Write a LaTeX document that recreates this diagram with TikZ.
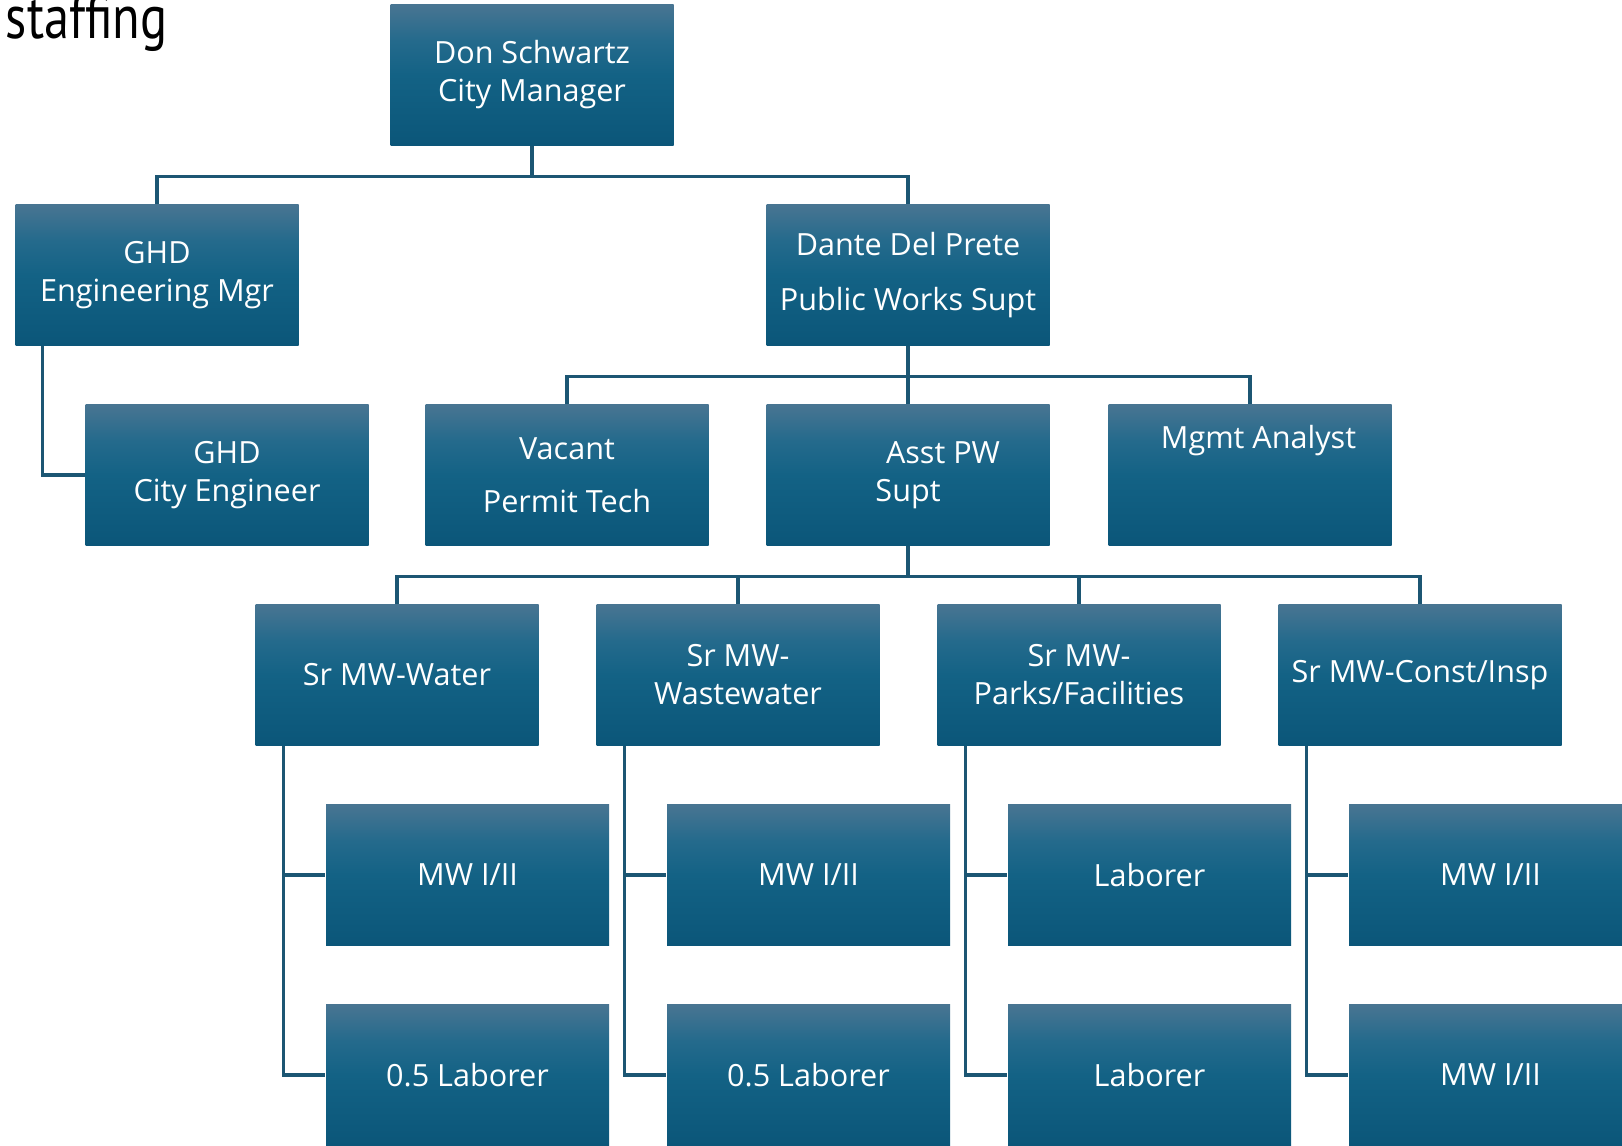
\documentclass[tikz,border=0pt]{standalone}
\usepackage{fontspec}
\setmainfont{Open Sans}
\newfontfamily\titlefont[FakeStretch=0.82]{PT Sans}
\definecolor{boxtop}{RGB}{72,117,146}
\definecolor{boxmidtop}{RGB}{36,106,140}
\definecolor{boxmid}{RGB}{19,98,133}
\definecolor{boxbot}{RGB}{11,86,121}
\definecolor{linecol}{RGB}{28,86,115}
\pgfdeclareverticalshading{orgshade}{100bp}{color(0bp)=(boxbot); color(25bp)=(boxbot); color(50bp)=(boxmid); color(62bp)=(boxmidtop); color(75bp)=(boxtop); color(100bp)=(boxtop)}
\tikzset{
    orgbox/.style={shade, shading=orgshade, minimum width=2.83cm, minimum height=1.41cm,
        inner sep=0pt, text=white, align=center, font=\fontsize{8.7}{10.8}\selectfont},
    orgline/.style={draw=linecol, line width=0.9pt}
}

\begin{document}
\begin{tikzpicture}
            \useasboundingbox (0,0) rectangle (16.22,-11.45);
            \clip (0,0) rectangle (16.22,-11.45);
            % title, cut by the page edge
            \node[anchor=base east, inner sep=0pt, font=\titlefont\fontsize{17.5}{20}\selectfont] (title) at (1.68,-0.38) {staffing};
            % top levels
            \node[orgbox] (mgr) at (5.32,-0.75) {Don Schwartz\\City Manager};
            \node[orgbox] (engmgr) at (1.57,-2.75) {GHD\\Engineering Mgr};
            \node[orgbox] (pwsupt) at (9.08,-2.75) {Dante Del Prete\\[0.17cm]Public Works Supt};
            \node[orgbox] (cityeng) at (2.27,-4.75) {GHD\\City Engineer};
            \node[orgbox] (permit) at (5.67,-4.75) {Vacant\\[0.15cm]Permit Tech};
            \node[orgbox] (asst) at (9.08,-4.75) {\hspace*{0.7cm}Asst PW\\Supt};
            \node[orgbox] (analyst) at (12.5,-4.75) {\hspace*{0.17cm}Mgmt Analyst\\\mbox{}\\\mbox{}};
            \draw[orgline] (mgr.south) -- ++(0,-0.3) coordinate (bus1);
            \draw[orgline] (bus1) -| (engmgr.north);
            \draw[orgline] (bus1) -| (pwsupt.north);
            \draw[orgline] ([xshift=0.28cm]engmgr.south west) |- (cityeng.west);
            \draw[orgline] (pwsupt.south) -- ++(0,-0.3) coordinate (bus2);
            \foreach \n in {permit,asst,analyst}
                \draw[orgline] (bus2) -| (\n.north);
            \draw[orgline] (asst.south) -- ++(0,-0.3) coordinate (bus3);
            % the four crews
            \foreach \n/\x/\txt/\ka/\kb in {water/3.97/{Sr MW-Water}/{MW I/II}/{0.5 Laborer},
                    ww/7.38/{Sr MW-\\Wastewater}/{MW I/II}/{0.5 Laborer},
                    parks/10.79/{Sr MW-\\Parks/Facilities}/{Laborer}/{Laborer},
                    const/14.2/{Sr MW-Const/Insp\strut}/{MW I/II}/{MW I/II}}
            {
                \node[orgbox] (sr\n) at (\x,-6.75) {\txt};
                \node[orgbox] (\n a) at (\x+0.705,-8.75) {\ka};
                \node[orgbox] (\n b) at (\x+0.705,-10.75) {\kb};
                \draw[orgline] (bus3) -| (sr\n.north);
                \draw[orgline] ([xshift=0.29cm]sr\n.south west) |- (\n a.west);
                \draw[orgline] ([xshift=0.29cm]sr\n.south west) |- (\n b.west);
            }
        \end{tikzpicture}
\end{document}
